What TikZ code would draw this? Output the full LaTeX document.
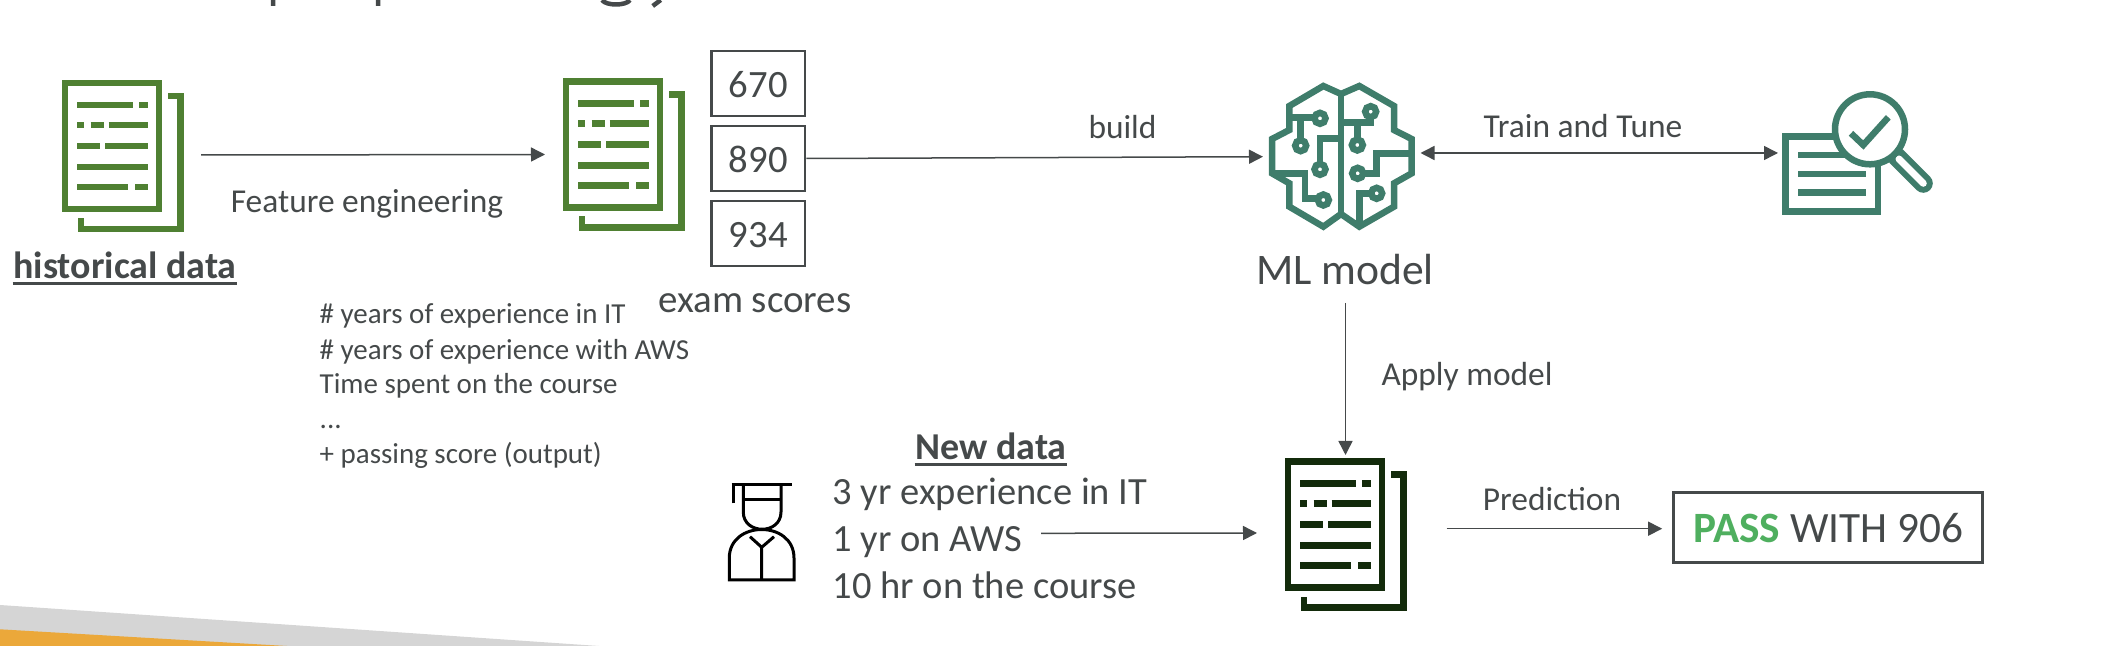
\documentclass[tikz,border=0pt]{standalone}
\usepackage{fontspec}
\setmainfont{Carlito}
\usetikzlibrary{arrows.meta,positioning}
\definecolor{inkgrey}{HTML}{45494A}
\definecolor{docgreen}{HTML}{4F8032}
\definecolor{docdark}{HTML}{132B0B}
\definecolor{mlteal}{HTML}{3F7D6B}
\definecolor{passgreen}{HTML}{4FAF5F}
\definecolor{bandgrey}{HTML}{D5D5D5}
\definecolor{bandorange}{HTML}{EBA83A}
\tikzset{
  txt/.style={inner sep=0pt,text=inkgrey,anchor=base,yshift=-.015cm},
  lbl/.style={txt,font=\fontsize{9.5}{11}\selectfont},
  feat/.style={txt,anchor=base west,font=\fontsize{8.24}{9}\selectfont},
  newd/.style={txt,anchor=base west,font=\fontsize{10.95}{12}\selectfont},
  head/.style={txt,font=\fontsize{10.8}{12}\bfseries\selectfont},
  scorebox/.style={draw=inkgrey,line width=.025cm,inner sep=0pt,text=inkgrey,
             minimum width=.935cm,minimum height=.65cm,text height=8.1pt,
             font=\fontsize{11}{12}\selectfont},
  flow/.style={draw=inkgrey,line width=.015cm,-{Triangle[length=1.4mm,width=1.4mm]}},
  uline/.style={draw=inkgrey,line width=.025cm},
  iconline/.style={line width=.065cm}}
\newcommand{\docicon}[3]{%
  \begin{scope}[shift={(#1,#2)},draw=#3,iconline]
    \draw (3,3) rectangle (97,129);
    \draw (106,16)--(118.5,16)--(118.5,149)--(19,149)--(19,138);
    \draw (15,25)--(71,25) (77,25)--(85.5,25);
    \draw (15,45)--(22,45) (28.5,45)--(42,45) (46.5,45)--(85.5,45);
    \draw (15,66)--(38,66) (43,66)--(85.5,66);
    \draw (15,87)--(85.5,87);
    \draw (15,107)--(66,107) (73,107)--(85.5,107);
  \end{scope}}
\begin{document}
\begin{tikzpicture}[x=.01cm,y=-.01cm]
  \useasboundingbox (0,0) rectangle (2102,646);
  % bottom corner band
  \fill[bandgrey] (0,605)--(599,646)--(0,646)--cycle;
  \fill[bandorange] (0,629.3)--(287,646)--(0,646)--cycle;
  % what is left of the title
  \draw[inkgrey,line width=.045cm] (273,0)--(273,6) (378,0)--(378,6) (660.7,0)--(652.7,6);
  \draw[inkgrey,line width=.045cm] (602,0) .. controls (606,6) and (626,6) .. (630,0);

  \docicon{62}{80}{docgreen}
  \docicon{563}{78.5}{docgreen}
  \docicon{1285}{458.7}{docdark}

  \node[head] (hist) at (125,277){historical data};
  \draw[uline] ([yshift=-.05cm]hist.base west)--([yshift=-.05cm]hist.base east);
  \coordinate (histout) at (201,155);
  \coordinate (docin) at (545,154.5);
  \draw[flow] (histout)--(docin);
  \node[lbl] (feateng) at (367,211){Feature engineering};

  \node[feat] (fa) at (319,322){\# years of experience in IT};
  \node[feat] (fb) at (319,358){\# years of experience with AWS};
  \node[feat] (fc) at (319,392){Time spent on the course};
  \node[feat] (fd) at (319,427){...};
  \node[feat] (fe) at (319,462){+ passing score (output)};

  \node[scorebox] (sa) at (758.25,83.5){670};
  \node[scorebox] (sb) at (758.25,158.5){890};
  \node[scorebox] (sc) at (758.25,233.5){934};
  \node[txt,font=\fontsize{11.07}{12}\selectfont] (exam) at (755,311){exam scores};

  % ML model
  \begin{scope}[shift={(1260,70)},scale=1/3,draw=mlteal,line width=.065cm]
    \draw (243,72)--(190,48)--(88,108)--(88,180)--(36,207)--(36,310)--(88,340)--(88,410)--(190,470)--(243,432)
      --(298,470)--(402,410)--(402,340)--(455,310)--(455,207)--(402,180)--(402,108)--(298,48)--cycle;
    \draw (243,72)--(243,432);
    \draw (88,143)--(180,143) (122,143)--(122,227);
    \draw (180,298)--(180,205)--(243,205);
    \draw (36,310)--(135,310)--(135,385)--(190,385);
    \draw (243,157)--(332,157)--(332,125) (292,157)--(292,225);
    \draw (455,250)--(350,250)--(350,310)--(293,310);
    \draw (298,470)--(298,370)--(350,370);
    \foreach \cx/\cy in {180/145,122/227,180/298,190/390,332/125,292/225,293/310,350/370}
      \draw[fill=white] (\cx,\cy) circle (16.5);
  \end{scope}
  \coordinate (mlin) at (1263,156.7);
  \coordinate (mlout) at (1420.5,153);
  \draw[flow] (sb.east)--(mlin);
  \node[lbl] (build) at (1122.5,136.7){build};
  \node[txt,font=\fontsize{12.4}{14}\selectfont] (ml) at (1345,283){ML model};

  % tuning icon
  \begin{scope}[draw=mlteal,iconline]
    \draw (1785.7,136.3) rectangle (1878,211.3);
    \draw (1798.3,155)--(1865.7,155) (1798.3,174)--(1865.7,174) (1798.3,192.7)--(1865.7,192.7);
    \draw[line width=.19cm,line cap=round] (1896.7,156.7)--(1923.3,183.3);
    \draw[white,line width=.07cm,line cap=round] (1899,159)--(1923.3,183.3);
    \draw[fill=white] (1870,129.3) circle (35);
    \draw (1851,133.3)--(1863.3,145)--(1888.3,117.3);
  \end{scope}
  \coordinate (tunein) at (1778,153);
  \draw[flow,{Triangle[length=1.4mm,width=1.4mm]}-{Triangle[length=1.4mm,width=1.4mm]}] (mlout)--(tunein);
  \node[lbl] (tune) at (1583,136){Train and Tune};

  % apply
  \coordinate (mlbelow) at (1345.5,303);
  \coordinate (predin) at (1345.5,455);
  \draw[flow] (mlbelow)--(predin);
  \node[lbl] (apply) at (1467,384){Apply model};

  % student
  \begin{scope}[draw=black,line width=.03cm]
    \draw (733.3,503.3)--(733.3,484.7) (731.7,484.7)--(791.7,484.7);
    \draw (743.3,484.7)--(743.3,512) .. controls (743.3,535) and (781,535) .. (781,512)--(781,484.7);
    \draw (743.3,499.3)--(781,499.3);
    \draw (729.3,580)--(794,580)--(794,558) .. controls (794,520) and (729.3,520) .. (729.3,558)--cycle;
    \draw (750,536.7)--(761.7,547.3)--(774,536.7) (761.7,547.3)--(761.7,580);
  \end{scope}
  \node[head] (newdata) at (991,458){New data};
  \draw[uline] ([yshift=-.05cm]newdata.base west)--([yshift=-.05cm]newdata.base east);
  \node[newd] (na) at (832,503){3 yr experience in IT};
  \node[newd] (nb) at (832,550){1 yr on AWS};
  \node[newd] (nc) at (832,597){10 hr on the course};
  \coordinate (nbout) at (1041,533.3);
  \coordinate (predleft) at (1257,533);
  \draw[flow] (nbout)--(predleft);

  % result
  \node[draw=inkgrey,line width=.025cm,inner sep=0pt,minimum width=3.09cm,minimum height=.704cm,
        text height=8.6pt,text=inkgrey,font=\fontsize{12.3}{14}\selectfont] (pass) at (1828,527.5)
        {\textcolor{passgreen}{\bfseries PASS} WITH 906};
  \coordinate (predout) at (1446.7,528.7);
  \draw[flow] (predout)--([xshift=-.1cm,yshift=-.012cm]pass.west);
  \node[lbl] (pred) at (1552,509.3){Prediction};
\end{tikzpicture}
\end{document}
